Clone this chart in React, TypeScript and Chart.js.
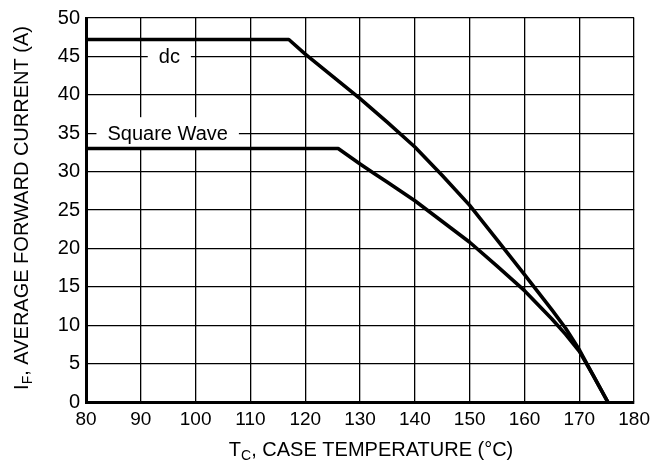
import React, { useEffect, useRef } from "react";
import { Chart, registerables } from "chart.js";

Chart.register(...registerables);

// ---- data ----
const dcTemp = [80, 117, 120, 125, 130, 135, 140, 145, 150, 155, 160, 165, 167.5, 170, 172.5, 175.2];
const dcCurrent = [47.2, 47.2, 45.3, 42.4, 39.5, 36.4, 33.2, 29.5, 25.6, 21.1, 16.6, 12.0, 9.6, 6.8, 3.5, 0];

const swTemp = [80, 126, 130, 132.5, 135, 140, 145, 150, 155, 160, 165, 167.5, 170, 172.5, 175.2];
const swCurrent = [33.0, 33.0, 31.0, 29.8, 28.6, 26.2, 23.5, 20.8, 17.7, 14.5, 10.8, 8.8, 6.6, 3.5, 0];

const seriesNames = ["dc", "Square Wave"];
const labelTemps = [95.2, 94.9];
const labelCurrents = [45, 35];

const xMin = 80, xMax = 180, xStep = 10;
const yMin = 0, yMax = 50, yStep = 5;

const xTitleMain = "T";
const xTitleSub = "C";
const xTitleRest = ", CASE TEMPERATURE (°C)";
const yTitleMain = "I";
const yTitleSub = "F";
const yTitleRest = ", AVERAGE FORWARD CURRENT (A)";

const FONT = "'Liberation Sans', Arial, Helvetica, sans-serif";

function drawSubText(ctx: CanvasRenderingContext2D, main: string, sub: string, rest: string, cx: number, cy: number, size: number) {
  const big = `${size}px ${FONT}`;
  const small = `${Math.round(size * 0.72)}px ${FONT}`;
  ctx.font = big;
  const w1 = ctx.measureText(main).width;
  const w3 = ctx.measureText(rest).width;
  ctx.font = small;
  const w2 = ctx.measureText(sub).width;
  const total = w1 + w2 + w3;
  let x = cx - total / 2;
  ctx.textBaseline = "middle";
  ctx.textAlign = "left";
  ctx.fillStyle = "#000";
  ctx.font = big;
  ctx.fillText(main, x, cy);
  x += w1;
  ctx.font = small;
  ctx.fillText(sub, x, cy + size * 0.3);
  x += w2;
  ctx.font = big;
  ctx.fillText(rest, x, cy);
}

const annotationPlugin = {
  id: "curveLabels",
  beforeDatasetsDraw(chart: any) {
    const { ctx, scales } = chart;
    ctx.save();
    ctx.font = `20px ${FONT}`;
    seriesNames.forEach((name, i) => {
      const px = scales.x.getPixelForValue(labelTemps[i]);
      const py = scales.y.getPixelForValue(labelCurrents[i]);
      const w = ctx.measureText(name).width + 22;
      const h = 32;
      ctx.fillStyle = "#fff";
      ctx.fillRect(px - w / 2, py - h / 2, w, h);
      ctx.fillStyle = "#000";
      ctx.textAlign = "center";
      ctx.textBaseline = "middle";
      ctx.fillText(name, px, py + 1);
    });
    ctx.restore();
  },
  afterDraw(chart: any) {
    const { ctx, chartArea } = chart;
    ctx.save();
    drawSubText(ctx, xTitleMain, xTitleSub, xTitleRest, (chartArea.left + chartArea.right) / 2 + 11, 450, 20);
    ctx.translate(22, (chartArea.top + chartArea.bottom) / 2 - 2);
    ctx.rotate(-Math.PI / 2);
    drawSubText(ctx, yTitleMain, yTitleSub, yTitleRest, 0, 0, 20);
    ctx.restore();
  },
};

export default function App() {
  const canvasRef = useRef<HTMLCanvasElement | null>(null);

  useEffect(() => {
    if (!canvasRef.current) return;
    const chart = new Chart(canvasRef.current, {
      type: "line",
      data: {
        datasets: [
          {
            label: seriesNames[0],
            data: dcTemp.map((t, i) => ({ x: t, y: dcCurrent[i] })),
            borderColor: "#000",
            borderWidth: 3.6,
            pointRadius: 0,
            fill: false,
            tension: 0,
            borderJoinStyle: "round",
          },
          {
            label: seriesNames[1],
            data: swTemp.map((t, i) => ({ x: t, y: swCurrent[i] })),
            borderColor: "#000",
            borderWidth: 3.6,
            pointRadius: 0,
            fill: false,
            tension: 0,
            borderJoinStyle: "round",
          },
        ],
      },
      options: {
        animation: false,
        responsive: true,
        maintainAspectRatio: false,
        layout: { padding: { top: 18, right: 20, left: 0, bottom: 0 } },
        plugins: { legend: { display: false }, tooltip: { enabled: false } },
        scales: {
          x: {
            type: "linear",
            min: xMin,
            max: xMax,
            afterFit: (s: any) => { s.height = 68; },
            ticks: { stepSize: xStep, color: "#000", font: { size: 19, family: FONT }, padding: 6, maxRotation: 0 },
            grid: { color: "#000", lineWidth: 1.3, drawTicks: false },
            border: { display: true, color: "#000", width: 3 },
          },
          y: {
            type: "linear",
            min: yMin,
            max: yMax,
            afterFit: (s: any) => { s.width = 86; },
            ticks: { stepSize: yStep, color: "#000", font: { size: 20, family: FONT }, padding: 6 },
            grid: { color: "#000", lineWidth: 1.3, drawTicks: false },
            border: { display: true, color: "#000", width: 3 },
          },
        },
      },
      plugins: [annotationPlugin],
    } as any);
    return () => chart.destroy();
  }, []);

  return (
    <div style={{ position: "fixed", left: 0, top: 0, width: 656, height: 470, background: "#fff" }}>
      <canvas ref={canvasRef} />
    </div>
  );
}
